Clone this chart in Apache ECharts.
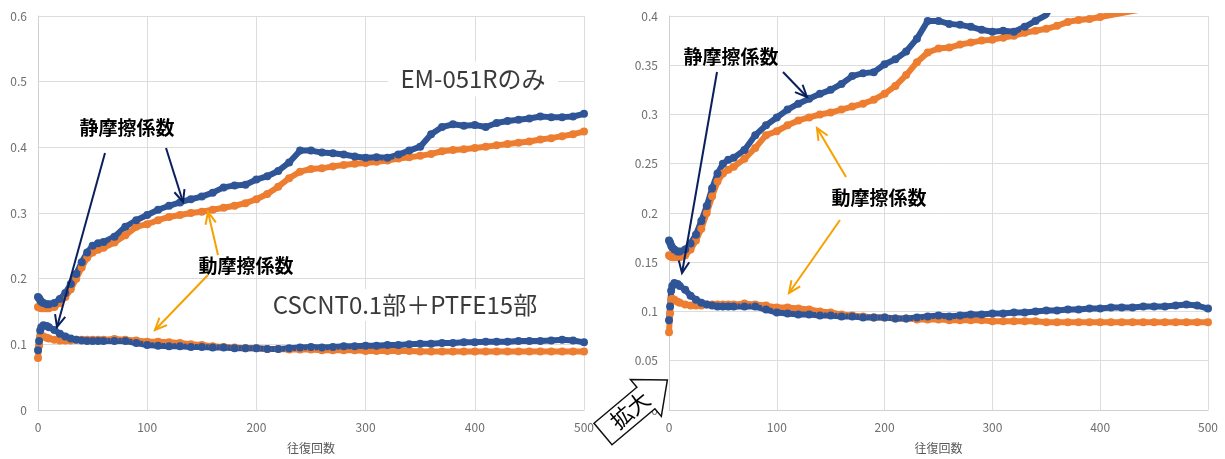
<!DOCTYPE html>
<html>
<head>
  <meta charset="utf-8">
  <title>摩擦係数</title>
  <script src="https://cdn.jsdelivr.net/npm/echarts@6/dist/echarts.min.js"></script>
  <style>
    html, body { margin: 0; padding: 0; background: #fff; }
    #chart { width: 1225px; height: 459px; }
  </style>
</head>
<body>
  <div id="chart"></div>
  <script type="text/javascript">
      // 往復回数
      var cycles = [0, 1, 2, 3, 5, 8, 10, 15, 20, 25, 30, 35, 40, 45, 50, 55, 60,
          70, 80, 90, 100, 110, 120, 130, 140, 150, 160, 170, 180, 190, 200,
          210, 220, 230, 240, 250, 260, 270, 280, 290, 300,
          310, 320, 330, 340, 350, 360, 370, 380, 390, 400,
          410, 420, 430, 440, 450, 460, 470, 480, 490, 500];

      // EM-051Rのみ
      var emStatic = [0.172, 0.170, 0.167, 0.165, 0.163, 0.161, 0.161, 0.163, 0.169, 0.178, 0.192, 0.207, 0.225, 0.240, 0.250, 0.254, 0.256,
          0.264, 0.279, 0.289, 0.297, 0.305, 0.311, 0.316, 0.321, 0.325, 0.331, 0.339, 0.342, 0.343, 0.351,
          0.356, 0.364, 0.377, 0.395, 0.395, 0.392, 0.391, 0.389, 0.386, 0.384,
          0.385, 0.384, 0.389, 0.395, 0.401, 0.420, 0.431, 0.435, 0.433, 0.434,
          0.431, 0.437, 0.440, 0.442, 0.444, 0.447, 0.446, 0.446, 0.447, 0.451];
      var emDynamic = [0.157, 0.156, 0.156, 0.155, 0.155, 0.155, 0.155, 0.157, 0.163, 0.172, 0.184, 0.200, 0.217, 0.232, 0.240, 0.244, 0.247,
          0.255, 0.266, 0.279, 0.283, 0.289, 0.294, 0.297, 0.300, 0.302, 0.305, 0.308, 0.311, 0.315, 0.321,
          0.329, 0.340, 0.353, 0.363, 0.367, 0.368, 0.371, 0.373, 0.375, 0.376,
          0.378, 0.380, 0.383, 0.385, 0.387, 0.390, 0.394, 0.396, 0.397, 0.399,
          0.401, 0.403, 0.405, 0.407, 0.409, 0.412, 0.414, 0.417, 0.420, 0.424];

      // CSCNT0.1部＋PTFE15部
      var cnStatic = [0.091, 0.105, 0.121, 0.126, 0.129, 0.128, 0.126, 0.122, 0.116, 0.112, 0.109, 0.107, 0.106, 0.105, 0.105, 0.105, 0.105,
          0.105, 0.105, 0.102, 0.099, 0.098, 0.097, 0.097, 0.096, 0.096, 0.095, 0.095, 0.094, 0.094, 0.094,
          0.093, 0.093, 0.094, 0.095, 0.096, 0.095, 0.096, 0.097, 0.097, 0.098,
          0.098, 0.099, 0.099, 0.100, 0.101, 0.101, 0.102, 0.102, 0.103, 0.103,
          0.104, 0.104, 0.104, 0.105, 0.105, 0.105, 0.106, 0.107, 0.106, 0.103];
      var cnDynamic = [0.079, 0.098, 0.112, 0.113, 0.112, 0.110, 0.109, 0.107, 0.106, 0.106, 0.106, 0.107, 0.107, 0.107, 0.107, 0.107, 0.107,
          0.108, 0.107, 0.106, 0.104, 0.104, 0.103, 0.102, 0.100, 0.099, 0.097, 0.096, 0.095, 0.094, 0.094,
          0.093, 0.093, 0.092, 0.092, 0.092, 0.091, 0.091, 0.091, 0.091, 0.090,
          0.090, 0.090, 0.090, 0.090, 0.089, 0.089, 0.089, 0.089, 0.089, 0.089,
          0.089, 0.089, 0.089, 0.089, 0.089, 0.089, 0.089, 0.089, 0.089, 0.089];

      var BLUE = '#2F5597', ORANGE = '#ED7D31';
      var NAVY = '#0A1F5C', GOLD = '#F7A000';
      var FONT = '"Noto Sans CJK JP", "Noto Sans", sans-serif';

      function pairs(ys) {
          return cycles.map(function (c, i) { return [c, ys[i]]; });
      }

      function xAxisFor(idx) {
          return {
              gridIndex: idx, type: 'value', min: 0, max: 500, interval: 100,
              name: '往復回数', nameLocation: 'middle', nameGap: 32,
              nameTextStyle: { color: '#595959', fontSize: 12, fontFamily: FONT },
              axisLine: { lineStyle: { color: '#d0d0d0' } },
              axisTick: { show: false },
              axisLabel: { color: '#6e6e6e', fontSize: 12, margin: 11, fontFamily: FONT },
              splitLine: { lineStyle: { color: '#dddddd' } }
          };
      }

      function yAxisFor(idx, max, step) {
          return {
              gridIndex: idx, type: 'value', min: 0, max: max, interval: step,
              axisLine: { show: true, lineStyle: { color: '#d0d0d0' } },
              axisTick: { show: false },
              axisLabel: { color: '#6e6e6e', fontSize: 12, margin: 11, fontFamily: FONT },
              splitLine: { lineStyle: { color: '#dddddd' } }
          };
      }

      function line(idx, ys, color) {
          return {
              type: 'line', xAxisIndex: idx, yAxisIndex: idx,
              data: pairs(ys), clip: true,
              symbol: 'circle', symbolSize: 8,
              lineStyle: { color: color, width: 6 },
              itemStyle: { color: color },
              animation: false
          };
      }

      function arrow(x1, y1, x2, y2, color) {
          var a = Math.atan2(y2 - y1, x2 - x1), h = 13, w = 0.42;
          return [
              { type: 'line', z: 50, shape: { x1: x1, y1: y1, x2: x2, y2: y2 },
                style: { stroke: color, lineWidth: 2 } },
              { type: 'polyline', z: 50, shape: { points: [
                  [x2 - h * Math.cos(a - w), y2 - h * Math.sin(a - w)], [x2, y2],
                  [x2 - h * Math.cos(a + w), y2 - h * Math.sin(a + w)]] },
                style: { stroke: color, lineWidth: 2, fill: null } }
          ];
      }

      function label(text, x, y) {
          return { type: 'text', z: 50, x: x, y: y,
              style: { text: text, fill: '#000', font: 'bold 19px ' + FONT, align: 'center', verticalAlign: 'middle' } };
      }

      function boxed(text, x, y, w, h) {
          return [
              { type: 'rect', z: 40, shape: { x: x - w / 2, y: y - h / 2, width: w, height: h }, style: { fill: '#fff' } },
              { type: 'text', z: 41, x: x, y: y,
                style: { text: text, fill: '#3a3a3a', font: '24px ' + FONT, align: 'center', verticalAlign: 'middle' } }
          ];
      }

      // 拡大 block arrow
      function blockArrow() {
          var tx = 603, ty = 434, ang = 40 * Math.PI / 180;
          var ux = Math.cos(ang), uy = -Math.sin(ang), nx = Math.sin(ang), ny = Math.cos(ang);
          var L = 84, hl = 28, s = 14, hw = 24;
          var local = [[0, -s], [L - hl, -s], [L - hl, -hw], [L, 0], [L - hl, hw], [L - hl, s], [0, s]];
          var pts = local.map(function (p) {
              return [tx + p[0] * ux + p[1] * nx, ty + p[0] * uy + p[1] * ny];
          });
          return [
              { type: 'polygon', z: 60, shape: { points: pts }, style: { fill: '#fff', stroke: '#111', lineWidth: 1.5 } },
              { type: 'text', z: 61, x: 630, y: 410, rotation: ang,
                style: { text: '拡大', fill: '#000', font: '22px ' + FONT, align: 'center', verticalAlign: 'middle' } }
          ];
      }

      var graphics = [].concat(
          boxed('EM-051Rのみ', 473, 79, 170, 35),
          boxed('CSCNT0.1部＋PTFE15部', 405, 305, 286, 32),
          label('静摩擦係数', 127, 128),
          label('動摩擦係数', 246, 266),
          label('静摩擦係数', 731, 57),
          label('動摩擦係数', 879, 198),
          arrow(105, 153, 57, 327, NAVY),
          arrow(166, 148, 183, 202, NAVY),
          arrow(218, 255, 208, 212, GOLD),
          arrow(208, 275, 155, 330, GOLD),
          arrow(717, 72, 682, 273, NAVY),
          arrow(783, 72, 807, 97, NAVY),
          arrow(846, 177, 817, 128, GOLD),
          arrow(840, 220, 789, 293, GOLD),
          blockArrow()
      );

      var myChart = echarts.init(document.getElementById('chart'));
      myChart.setOption({
          animation: false,
          backgroundColor: '#fff',
          grid: [
              { left: 38, right: 641, top: 16, bottom: 48 },
              { left: 669, right: 17, top: 16, bottom: 48 }
          ],
          xAxis: [xAxisFor(0), xAxisFor(1)],
          yAxis: [yAxisFor(0, 0.6, 0.1), yAxisFor(1, 0.4, 0.05)],
          series: [
              line(0, cnDynamic, ORANGE),
              line(0, cnStatic, BLUE),
              line(0, emDynamic, ORANGE),
              line(0, emStatic, BLUE),
              line(1, cnDynamic, ORANGE),
              line(1, cnStatic, BLUE),
              line(1, emDynamic, ORANGE),
              line(1, emStatic, BLUE)
          ],
          graphic: graphics
      });
  </script>
</body>
</html>
